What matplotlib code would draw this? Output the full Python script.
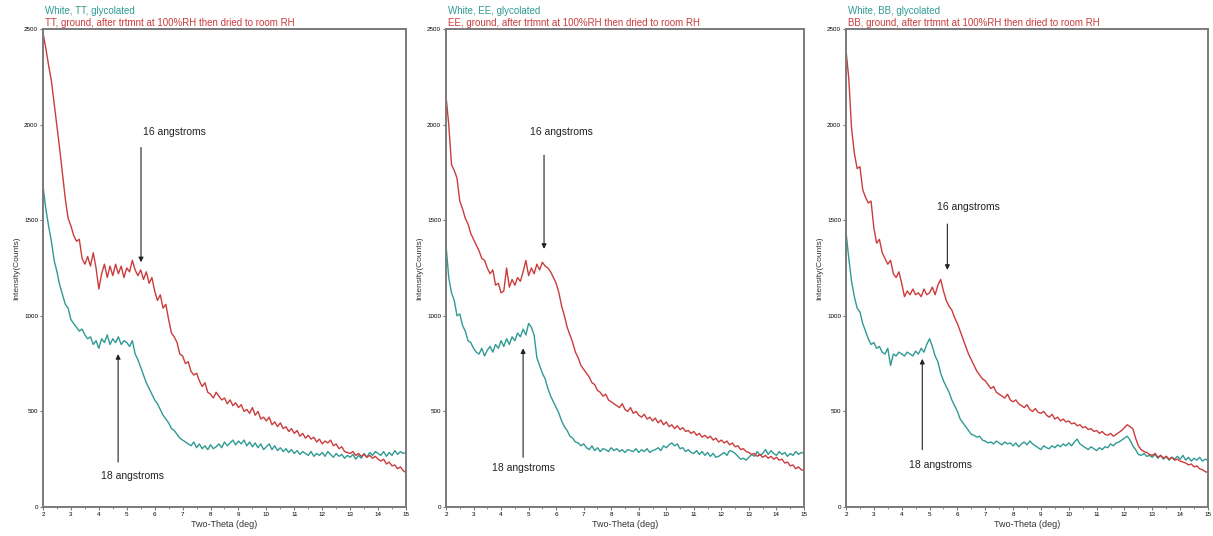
import numpy as np
import matplotlib.pyplot as plt

plt.rcParams['font.family'] = ['Liberation Sans', 'DejaVu Sans']

# two-theta grid 2.0 .. 15.0 step 0.1 for all scans
tt_red = [2480, 2400, 2310, 2230, 2110, 1990, 1870, 1740, 1610, 1510,
          1470, 1420, 1390, 1400, 1300, 1270, 1310, 1260, 1330, 1250,
          1140, 1220, 1270, 1200, 1260, 1210, 1270, 1220, 1260, 1200,
          1250, 1230, 1290, 1240, 1210, 1240, 1190, 1230, 1170, 1200,
          1130, 1080, 1110, 1040, 1060, 980, 910, 890, 860, 800,
          790, 750, 760, 710, 690, 700, 660, 630, 650, 600,
          590, 570, 600, 580, 560, 570, 540, 560, 530, 545,
          520, 535, 500, 510, 490, 520, 480, 500, 460, 470,
          450, 470, 430, 445, 420, 440, 410, 420, 395, 410,
          385, 400, 370, 385, 360, 375, 355, 365, 340, 355,
          330, 345, 335, 350, 320, 330, 305, 315, 290, 285,
          280, 290, 270, 280, 265, 275, 260, 270, 255, 265,
          250, 240, 250, 225, 235, 215, 220, 200, 210, 190,
          180]
tt_teal = [1680, 1560, 1470, 1390, 1290, 1230, 1160, 1110, 1060, 1040,
           980, 960, 940, 920, 930, 900, 880, 890, 850, 870,
           830, 880, 860, 900, 850, 880, 860, 890, 850, 870,
           860, 840, 870, 800, 770, 730, 690, 650, 620, 590,
           560, 540, 510, 480, 460, 440, 410, 400, 380, 360,
           350, 340, 330, 320, 340, 310, 330, 305, 320, 300,
           325, 305, 315, 330, 310, 340, 320, 335, 350, 325,
           345, 330, 350, 320, 340, 315, 335, 310, 330, 300,
           315, 330, 300, 320, 295, 310, 290, 305, 285, 300,
           280, 295, 275, 290, 280, 270, 290, 265, 280, 270,
           285, 265, 290, 275, 260, 280, 265, 275, 255, 270,
           260, 275, 250, 270, 255, 280, 260, 285, 270, 290,
           280, 270, 290, 265, 285, 270, 295, 275, 290, 280,
           285]
ee_red = [2150, 2000, 1790, 1760, 1720, 1600, 1560, 1510, 1480, 1430,
          1400, 1370, 1340, 1300, 1290, 1250, 1220, 1240, 1160, 1170,
          1120, 1130, 1250, 1150, 1190, 1160, 1200, 1180, 1230, 1290,
          1210, 1250, 1220, 1270, 1240, 1280, 1260, 1250, 1230, 1200,
          1170, 1120, 1050, 1000, 940, 900, 860, 810, 780, 740,
          720, 700, 680, 650, 640, 610, 600, 580, 590, 560,
          550, 540, 530, 520, 540, 510, 500, 520, 490, 500,
          480, 470, 485, 460, 470, 450, 465, 440, 455, 430,
          445, 420, 430, 410, 425, 405, 415, 395, 400, 385,
          395, 375, 385, 365, 375, 360, 370, 350, 360, 340,
          350, 335, 345, 325, 335, 315, 320, 300, 305, 290,
          285, 275, 280, 265, 275, 260, 270, 255, 265, 250,
          260, 245, 250, 230, 235, 215, 220, 200, 210, 195,
          190]
ee_teal = [1370, 1200, 1120, 1080, 1000, 1010, 950, 920, 870, 860,
           830, 810, 800, 830, 790, 820, 840, 810, 850, 830,
           870, 840, 880, 850, 890, 870, 910, 890, 930, 900,
           960, 940, 900, 780, 740, 700, 670, 620, 580, 550,
           520, 490, 450, 420, 400, 370, 360, 340, 335, 320,
           330, 310, 300, 320, 295, 310, 290, 305, 300, 290,
           310, 295, 305, 290, 300, 285, 300, 295, 290, 305,
           285, 300, 290, 305, 285, 295, 300, 310, 295, 320,
           310, 325, 335, 320, 330, 305, 310, 290, 300, 285,
           280, 295, 275, 290, 270, 285, 265, 280, 260, 265,
           275, 285, 270, 295, 290, 280, 265, 250, 255, 245,
           260, 275, 265, 290, 270, 280, 300, 275, 295, 280,
           270, 290, 275, 285, 265, 280, 270, 290, 275, 285,
           280]
bb_red = [2390, 2240, 1980, 1850, 1770, 1780, 1660, 1620, 1590, 1600,
          1460, 1380, 1400, 1330, 1300, 1270, 1290, 1220, 1200, 1230,
          1170, 1100, 1130, 1110, 1140, 1110, 1120, 1100, 1140, 1110,
          1120, 1150, 1110, 1160, 1190, 1130, 1080, 1050, 1030, 990,
          960, 920, 880, 840, 800, 770, 740, 710, 690, 670,
          660, 640, 620, 630, 600, 590, 580, 570, 590, 560,
          550, 560, 540, 530, 520, 535, 510, 500, 515, 495,
          490, 500, 480, 470, 485, 460, 470, 450, 460, 445,
          450, 435, 440, 425, 430, 415, 420, 405, 410, 395,
          400, 385, 395, 380, 375, 385, 370, 380, 390, 400,
          415, 430, 420, 410, 360, 320, 300, 290, 285, 275,
          270, 280, 260, 270, 255, 265, 250, 260, 245, 250,
          240, 235, 230, 220, 225, 210, 215, 200, 195, 185,
          180]
bb_teal = [1440, 1300, 1180, 1100, 1040, 1020, 960, 920, 880, 850,
           860, 830, 840, 810, 800, 830, 740, 800, 790, 810,
           800, 790, 810, 800, 790, 815, 800, 830, 810, 850,
           880, 840, 790, 760, 700, 660, 630, 600, 560, 530,
           500, 460, 440, 420, 400, 380, 375, 365, 370, 350,
           345, 335, 340, 330, 345, 335, 325, 340, 330, 335,
           320, 335, 315, 330, 340, 325, 345, 330, 320, 310,
           300, 320, 310, 305, 320, 310, 325, 315, 330, 320,
           335, 320, 340, 355, 330, 320, 310, 300, 315, 305,
           295, 310, 300, 315, 310, 330, 320, 335, 340, 350,
           360, 370, 350, 320, 300, 275, 270, 280, 265, 270,
           260, 275, 255, 270, 250, 265, 245, 260, 250, 265,
           250, 270, 245, 260, 240, 255, 245, 260, 240, 250,
           245]

samples = ['TT', 'EE', 'BB']
reds = [tt_red, ee_red, bb_red]
teals = [tt_teal, ee_teal, bb_teal]
# arrow (x, y_tail, y_tip) and label position for 16 and 18 angstrom marks
arr16 = [(5.51, 1880, 1280), (5.56, 1840, 1350), (5.64, 1480, 1240)]
lab16 = [(6.7, 1960), (6.2, 1960), (6.4, 1570)]
arr18 = [(4.69, 235, 800), (4.8, 260, 830), (4.74, 300, 775)]
lab18 = [(5.2, 160), (4.8, 205), (5.4, 220)]

RED = '#cc3b3b'
TEAL = '#2f9a93'

fig = plt.figure(figsize=(12.13, 5.36), dpi=100)
lefts = [43, 446, 846]
widths = [363, 358, 362]

for i in range(3):
    ax = fig.add_axes([lefts[i] / 1213, (536 - 507) / 536,
                       widths[i] / 1213, 478 / 536])
    ax.plot(np.linspace(2, 15, len(teals[i])), teals[i], color=TEAL, lw=1.0)
    ax.plot(np.linspace(2, 15, len(reds[i])), reds[i], color=RED, lw=1.0)
    ax.set_xlim(2, 15)
    ax.set_ylim(0, 2500)
    ax.set_xticks(range(2, 16))
    ax.set_xticks(np.arange(2.5, 15, 1), minor=True)
    ax.set_yticks([0, 500, 1000, 1500, 2000, 2500])
    ax.tick_params(axis='both', labelsize=4.5, length=2, width=0.8,
                   color='#777777', pad=1.5)
    ax.tick_params(axis='x', which='minor', length=1.5, color='#777777')
    for s in ax.spines.values():
        s.set_color('#7a7a7a')
        s.set_linewidth(1.4)
    ax.set_xlabel('Two-Theta (deg)', fontsize=6.5, labelpad=2, color='#333333')
    ax.set_ylabel('Intensity(Counts)', fontsize=6, labelpad=3, color='#333333')

    ax.text(0.005, 1.027, 'White, %s, glycolated' % samples[i], transform=ax.transAxes,
            fontsize=7, color=TEAL, va='bottom', ha='left')
    ax.text(0.005, 1.003, '%s, ground, after trtmnt at 100%%RH then dried to room RH' % samples[i],
            transform=ax.transAxes, fontsize=7, color=RED, va='bottom', ha='left')

    xa, yt, yp = arr16[i]
    ax.annotate('', xy=(xa, yp), xytext=(xa, yt),
                arrowprops=dict(arrowstyle='-|>', color='#222222', lw=0.8,
                                mutation_scale=7, shrinkA=0, shrinkB=0))
    ax.text(lab16[i][0], lab16[i][1], '16 angstroms', fontsize=7.5, color='#222222',
            ha='center', va='center')
    xa, yt, yp = arr18[i]
    ax.annotate('', xy=(xa, yp), xytext=(xa, yt),
                arrowprops=dict(arrowstyle='-|>', color='#222222', lw=0.8,
                                mutation_scale=7, shrinkA=0, shrinkB=0))
    ax.text(lab18[i][0], lab18[i][1], '18 angstroms', fontsize=7.5, color='#222222',
            ha='center', va='center')

plt.savefig('out.png', dpi=100)
